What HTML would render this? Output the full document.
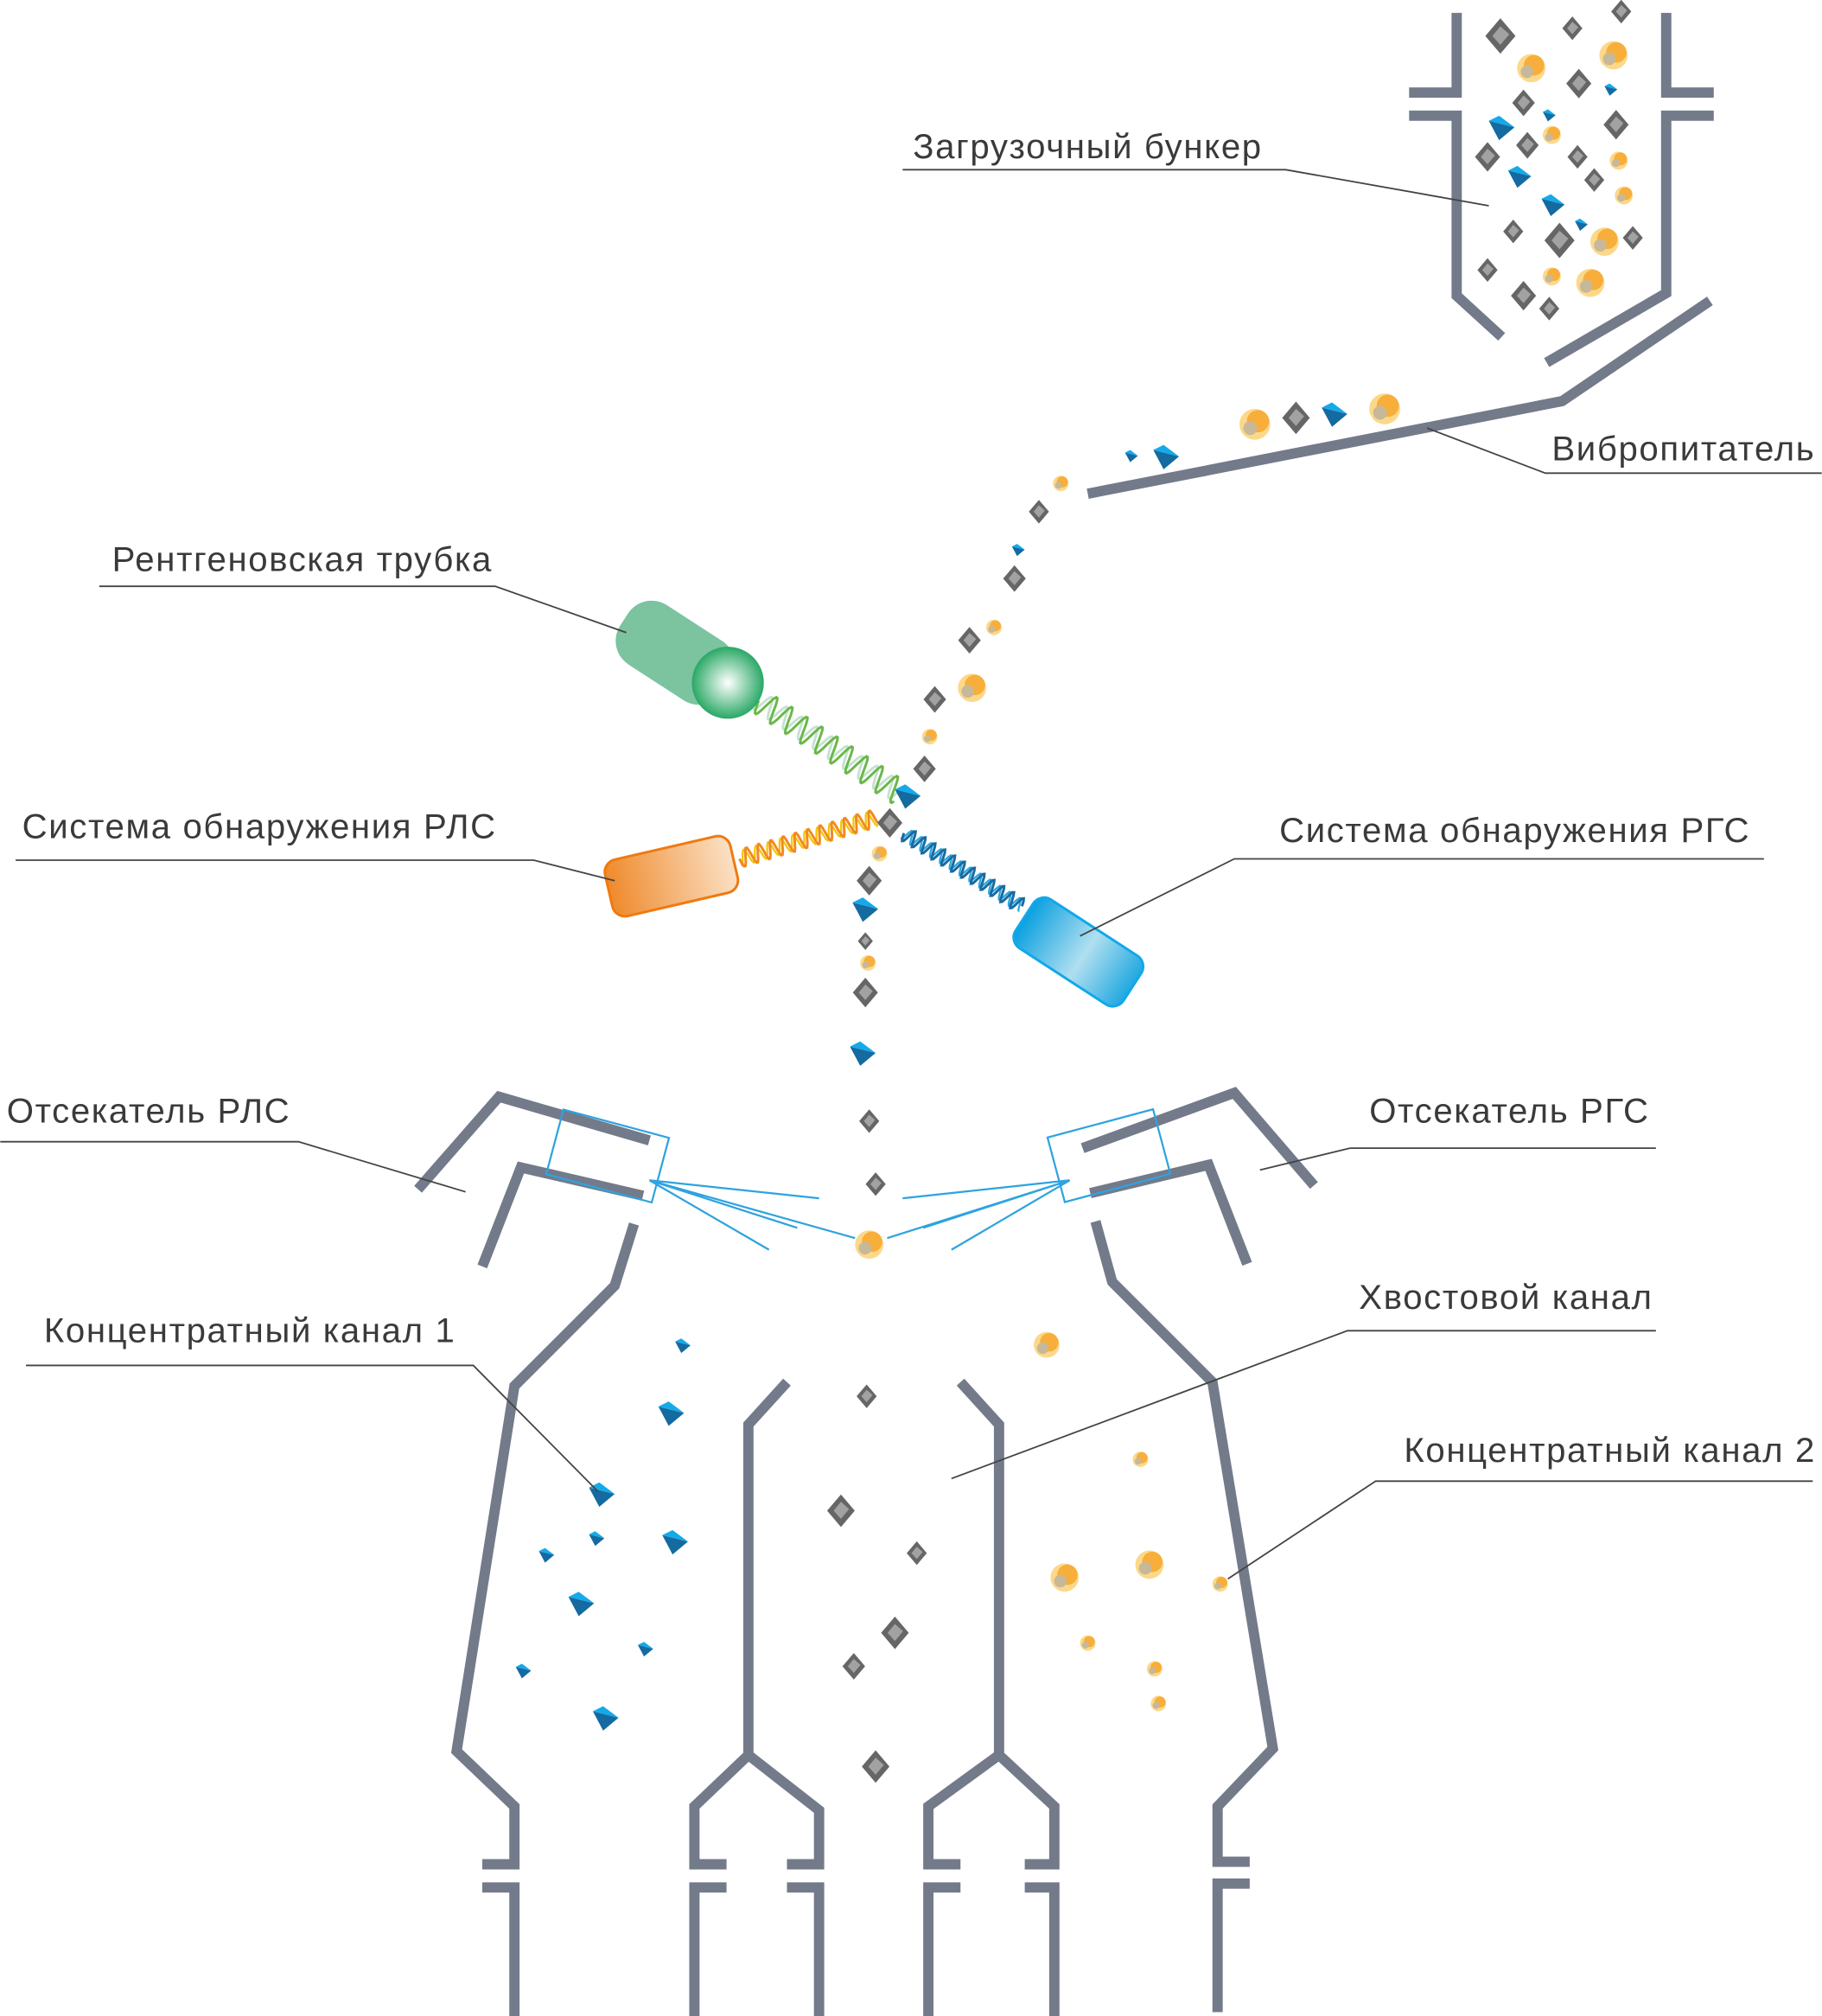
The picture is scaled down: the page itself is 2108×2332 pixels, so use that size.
<!DOCTYPE html>
<html><head><meta charset="utf-8">
<style>
html,body{margin:0;padding:0;background:#fff;}
svg{display:block;}
text{font-family:"Liberation Sans",sans-serif;font-size:27px;fill:#3a3a3a;letter-spacing:1.1px;}
</style></head>
<body>
<svg id="s" width="2108" height="2332" viewBox="0 0 1417 1568" xmlns="http://www.w3.org/2000/svg">
<defs>
<radialGradient id="gs" cx="0.5" cy="0.5" r="0.5"><stop offset="0" stop-color="#fff"/><stop offset="1" stop-color="#2aa865"/></radialGradient>
<linearGradient id="go" x1="0" x2="1"><stop offset="0" stop-color="#ef8a2c"/><stop offset="1" stop-color="#fbe1c6"/></linearGradient>
<linearGradient id="gb" x1="0" x2="1"><stop offset="0" stop-color="#0aa0e0"/><stop offset="0.55" stop-color="#b0dff0"/><stop offset="1" stop-color="#20a8e0"/></linearGradient>
</defs>
<g fill="none" stroke="#737a8a" stroke-width="8" stroke-linejoin="miter">
<path d="M1133,10 V72 H1096 M1096,90 H1133 V230 L1168,262"/>
<path d="M1296,10 V72 H1333 M1333,90 H1296 V228 L1203,282"/>
<path d="M1330,234 L1215,312 L846,384"/>
<path d="M325,925 L388,853 L505,887 M375,985 L405,908 L500,930"/>
<path d="M493,952 L478,1000 L400,1078 L355,1362 L400,1405 V1450 H375 M375,1468 H400 V1568"/>
<path d="M612,1075 L582,1108 V1365 L540,1405 V1450 H565 M565,1468 H540 V1568 M582,1365 L637,1408 V1450 H612 M612,1468 H637 V1568"/>
<path d="M747,1075 L777,1108 V1365 L722,1405 V1450 H747 M747,1468 H722 V1568 M777,1365 L820,1405 V1450 H797 M797,1468 H820 V1568"/>
<path d="M852,950 L865,997 L943,1075 L990,1360 L947,1405 V1448 H972 M972,1465 H947 V1565"/>
<path d="M1022,922 L960,850 L842,893 M970,983 L940,906 L848,928"/>
</g>
<g fill="none" stroke="#2ea3e0" stroke-width="1.5">
<rect x="430" y="873" width="85" height="52" transform="rotate(15 472 899)"/>
<rect x="820" y="873" width="85" height="52" transform="rotate(-15 862 899)"/>
<path d="M505,918 L637,932 M505,918 L620,955 M505,918 L598,972 M505,918 L665,963"/>
<path d="M832,918 L702,932 M832,918 L718,955 M832,918 L740,972 M832,918 L690,963"/>
</g>
<g id="waves"></g>
<rect x="478" y="480" width="95" height="55" rx="22" fill="#7cc3a0" transform="rotate(33 525 507)"/>
<circle cx="566" cy="531" r="28" fill="url(#gs)"/>
<rect x="472" y="659" width="100" height="45" rx="10" fill="url(#go)" stroke="#ef7a10" stroke-width="2" transform="rotate(-13 522 681)"/>
<rect x="789" y="718" width="100" height="45" rx="10" fill="url(#gb)" stroke="#10a8ea" stroke-width="2" transform="rotate(33 839 740)"/>
<g id="parts"></g>
<g stroke="#444" stroke-width="1.2" fill="none">
<path d="M702,132 H1000 L1158,160"/>
<path d="M1417,368 H1202 L1110,333"/>
<path d="M77,456 H385 L487,492"/>
<path d="M12,669 H415 L478,685"/>
<path d="M1372,668 H960 L840,728"/>
<path d="M0,888 H232 L362,927"/>
<path d="M1288,893 H1050 L980,910"/>
<path d="M1288,1035 H1048 L740,1150"/>
<path d="M20,1062 H368 L465,1160"/>
<path d="M1410,1152 H1070 L955,1228"/>
</g>
<text x="710" y="123">Загрузочный  бункер</text>
<text x="1207" y="358">Вибропитатель</text>
<text x="87" y="444">Рентгеновская трубка</text>
<text x="17" y="652">Система обнаружения РЛС</text>
<text x="995" y="655">Система обнаружения РГС</text>
<text x="5" y="873">Отсекатель РЛС</text>
<text x="1065" y="873">Отсекатель РГС</text>
<text x="1057" y="1018">Хвостовой канал</text>
<text x="34" y="1044">Концентратный канал 1</text>
<text x="1092" y="1137">Концентратный канал 2</text>
</svg>
<script>
var NS="http://www.w3.org/2000/svg";
function el(p,t,a){var e=document.createElementNS(NS,t);for(var k in a)e.setAttribute(k,a[k]);p.appendChild(e);return e;}
var W=document.getElementById("waves");
function wave(x1,y1,x2,y2,amp,per,col,ph,w){var dx=x2-x1,dy=y2-y1,L=Math.hypot(dx,dy),ux=dx/L,uy=dy/L,nx=-uy,ny=ux,d="";
for(var s=0;s<=L;s+=1){var o=amp*Math.sin(2*Math.PI*s/per+ph);d+=(s?"L":"M")+(x1+ux*s+nx*o).toFixed(1)+","+(y1+uy*s+ny*o).toFixed(1);}
el(W,"path",{d:d,fill:"none",stroke:col,"stroke-width":w});}
wave(590,545,700,617,8,14,"#c6e3d0",1.5,2);wave(590,545,700,617,10,14,"#6ab84a",0,2);
wave(575,668,682,636,6,10,"#f5c400",1.5,1.5);wave(575,668,682,636,7,10,"#f08a20",0,2);
wave(703,648,795,705,5,9,"#29a8e0",1.5,1.5);wave(703,648,795,705,6,9,"#1a6aa0",0,2);
var P=document.getElementById("parts");
function dia(x,y,s){s*=1.15;el(P,"path",{d:"M"+x+","+(y-s)+"L"+(x+s*0.85)+","+y+"L"+x+","+(y+s)+"L"+(x-s*0.85)+","+y+"Z",fill:"#666"});
el(P,"path",{d:"M"+x+","+(y-s*0.55)+"L"+(x+s*0.5)+","+(y-s*0.1)+"L"+(x)+","+(y+s*0.5)+"L"+(x-s*0.45)+","+y+"Z",fill:"#a2a2a4"});}
function orb(x,y,r){el(P,"circle",{cx:x,cy:y,r:r,fill:"#fcd88a"});el(P,"circle",{cx:x+r*0.2,cy:y-r*0.2,r:r*0.72,fill:"#f7ae3a"});el(P,"circle",{cx:x-r*0.3,cy:y+r*0.25,r:r*0.45,fill:"#c8b89a"});}
function tri(x,y,s){el(P,"path",{d:"M"+(x-s)+","+(y-s*0.6)+"L"+(x+s)+","+(y-s*0.1)+"L"+(x-s*0.2)+","+(y+s*0.9)+"Z",fill:"#156aa0"});
el(P,"path",{d:"M"+(x-s)+","+(y-s*0.6)+"L"+(x-s*0.2)+","+(y-s)+"L"+(x+s)+","+(y-s*0.1)+"Z",fill:"#14aaea"});}
[[1167,28,12],[1223,22,8],[1261,9,8],[1228,65,10],[1185,80,9],[1257,97,10],[1188,113,9],[1157,122,10],[1227,122,8],[1240,140,8],[1213,187,12],[1177,180,8],[1270,185,8],[1157,210,8],[1185,230,10],[1205,240,8],
[1008,325,11],[808,398,8],[789,450,9],[754,498,9],[727,544,9],[719,598,9],[692,640,10],[676,685,10],[673,732,6],[673,772,10],[676,872,8],[681,921,8],[674,1086,8],[654,1175,11],[713,1208,8],[696,1270,11],[664,1296,9],[681,1374,11]].forEach(function(a){dia(a[0],a[1],a[2]);});
[[1191,53,11],[1255,43,11],[1207,105,7],[1259,125,7],[1263,152,7],[1248,188,11],[1237,220,11],[1207,215,7],[976,330,12],[1077,318,12],[825,376,6],[773,488,6],[756,535,11],[723,573,6],[684,664,6],[675,749,6],[676,968,11],[814,1046,10],[887,1135,6],[828,1227,11],[894,1217,11],[949,1232,6],[846,1278,6],[898,1298,6],[901,1325,6]].forEach(function(a){orb(a[0],a[1],a[2]);});
[[1168,100,10],[1182,138,9],[1208,160,9],[1253,70,5],[1205,90,5],[1230,175,5],[907,356,10],[880,355,5],[1038,323,10],[792,428,5],[706,620,10],[673,708,10],[671,820,10],[531,1047,6],[522,1100,10],[468,1163,10],[464,1197,6],[525,1200,10],[425,1210,6],[452,1248,10],[502,1283,6],[407,1300,6],[471,1337,10]].forEach(function(a){tri(a[0],a[1],a[2]);});
</script>
</body></html>
